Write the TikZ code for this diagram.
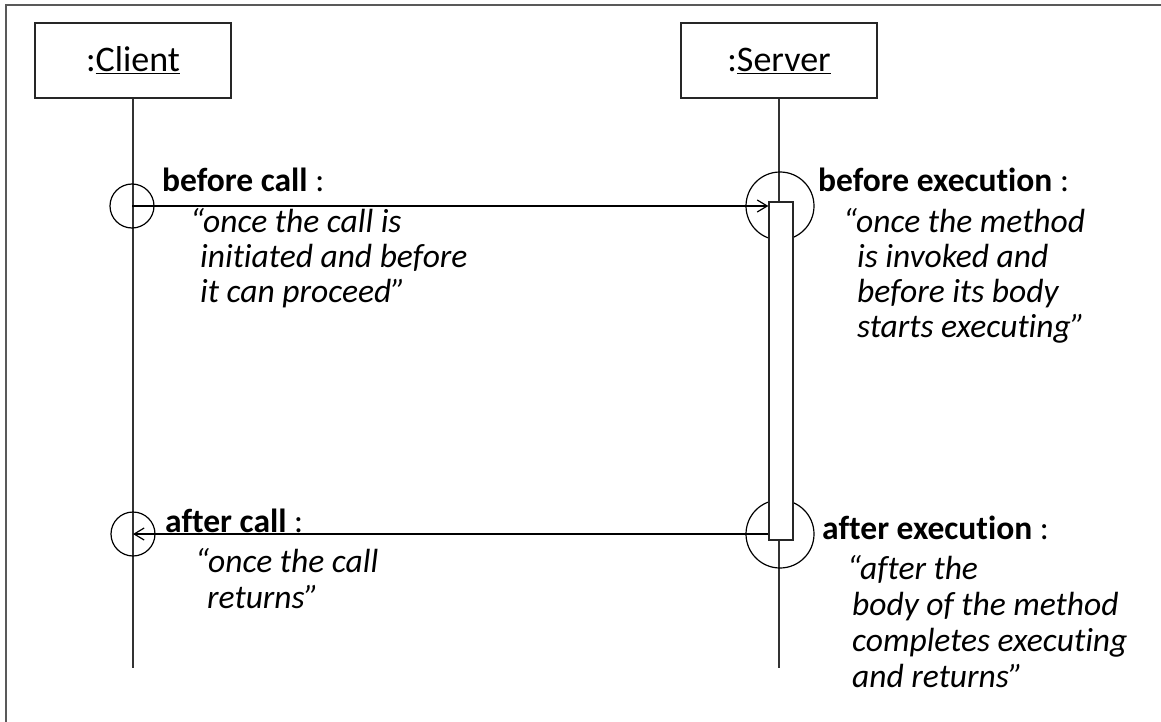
\documentclass[tikz,border=0pt]{standalone}
\usepackage{fontspec}
\setmainfont{Carlito}[Ligatures=NoCommon]
\usetikzlibrary{arrows.meta}
\begin{document}
\begin{tikzpicture}[x=1pt,y=-1pt,
  frame/.style={draw=black!65, line width=2pt},
  obj/.style={draw=black!85, line width=1.2pt, minimum width=196pt, minimum height=75pt,
    inner sep=0pt, font=\fontsize{36}{40}\selectfont},
  life/.style={draw=black!80, line width=1.2pt},
  point/.style={draw, line width=1.2pt, circle, inner sep=0pt},
  activation/.style={draw=black!85, fill=white, line width=1.2pt, minimum width=24pt,
    minimum height=338pt, inner sep=0pt},
  msg/.style={line width=1.2pt, -{Straight Barb[length=10pt,width=12pt,line width=1.2pt]}},
  head/.style={anchor=base west, inner sep=0pt, font=\fontsize{33.5}{36}\selectfont},
  say/.style={anchor=base west, inner sep=0pt, font=\fontsize{33.5}{36}\selectfont\itshape}
]
\useasboundingbox (0,0) rectangle (1161,722);

% page frame (top and left edges)
\draw[frame] (6,722) -- (6,5) -- (1161,5);

% participants
\node[obj] (client) at (133,60.5) {:\underline{Client}};
\node[obj] (server) at (779,60.5) {:\underline{Server}};

% lifelines
\coordinate (clientEnd) at (133,668);
\coordinate (serverEnd) at (779,668);
\draw[life] (client.south) -- (clientEnd);
\draw[life] (server.south) -- (serverEnd);

% join points
\node[point, minimum size=44pt] (beforeCall) at (132,206) {};
\node[point, minimum size=44pt] (afterCall) at (133,534) {};
\node[point, minimum size=68pt] (beforeExec) at (780,206) {};
\node[point, minimum size=68pt] (afterExec) at (780,534) {};

% execution of the method
\node[activation] (act) at (781,371) {};

% call and return messages
\draw[msg] (beforeCall.center) -- (act.west |- beforeCall.center);
\draw[msg] (act.west |- afterExec.center) -- (afterCall.center);

% client side, before the call
\node[head] (bcH) at (162,192) {\textbf{before call} :};
\node[say] (bc1) at (190,232) {“once the call is};
\node[say] (bc2) at (200,267) {initiated and before};
\node[say] (bc3) at (200,302) {it can proceed”};

% server side, before execution
\node[head] (beH) at (818,192) {\textbf{before execution} :};
\node[say] (be1) at (843,232) {“once the method};
\node[say] (be2) at (857,267) {is invoked and};
\node[say] (be3) at (857,302) {before its body};
\node[say] (be4) at (857,337) {starts executing”};

% client side, after the call
\node[head] (acH) at (165,532) {\textbf{after call} :};
\node[say] (ac1) at (195,572) {“once the call};
\node[say] (ac2) at (207,608) {returns”};

% server side, after execution
\node[head] (aeH) at (822,539) {\textbf{after execution} :};
\node[say] (ae1) at (847,579) {“after the};
\node[say] (ae2) at (852,615) {body of the method};
\node[say] (ae3) at (852,651) {completes executing};
\node[say] (ae4) at (852,687) {and returns”};
\end{tikzpicture}
\end{document}
